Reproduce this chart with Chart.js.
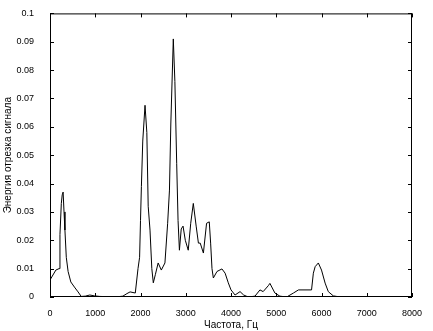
<!DOCTYPE html>
<html>
<head>
<meta charset="utf-8">
<script src="https://cdn.jsdelivr.net/npm/chart.js@4"></script>
<style>
  html, body { margin: 0; padding: 0; background: #fff; }
  canvas { display: block; }
</style>
</head>
<body>
<canvas id="specChart" width="433" height="331"></canvas>
<script>
// frequency, Hz
var freqs = [0, 130, 200, 220, 250, 270, 290, 310, 330, 360, 400, 460, 540, 620, 690, 780, 880, 980, 1100, 1300,
  1500, 1610, 1700, 1770, 1885, 1945, 1980, 2000, 2020, 2050, 2100, 2140, 2170, 2210, 2250, 2283, 2330, 2390, 2460,
  2540, 2600, 2640, 2670, 2725, 2760, 2800, 2830, 2860, 2900, 2940, 2990, 3055, 3110, 3167, 3230, 3280, 3320, 3390,
  3460, 3520, 3550, 3580, 3610, 3690, 3800, 3870, 3940, 4000, 4090, 4200, 4280, 4380, 4530, 4640, 4710, 4825, 4860,
  4970, 5080, 5230, 5380, 5490, 5780, 5820, 5860, 5930, 6000, 6080, 6150, 6260, 6410, 8000];
// energy of the signal segment
var energy = [0.006, 0.0095, 0.010, 0.022, 0.033, 0.036, 0.037, 0.030, 0.0236, 0.014, 0.009, 0.0053, 0.0035, 0.0018,
  0.0002, 0.0003, 0.0007, 0.0004, 0.0002, 0.0001, 0.0001, 0.0003, 0.0012, 0.0018, 0.0014, 0.010, 0.014, 0.027, 0.039,
  0.055, 0.0676, 0.058, 0.032, 0.0236, 0.010, 0.005, 0.008, 0.012, 0.0095, 0.012, 0.026, 0.0377, 0.061, 0.091, 0.076,
  0.047, 0.027, 0.0165, 0.024, 0.025, 0.020, 0.0165, 0.026, 0.033, 0.025, 0.019, 0.019, 0.0155, 0.026, 0.0265, 0.019,
  0.010, 0.0067, 0.009, 0.0099, 0.0084, 0.005, 0.0025, 0.0007, 0.0019, 0.0007, 0.0, 0.0003, 0.0025, 0.0019, 0.004,
  0.0048, 0.0014, 0.0003, 0.0, 0.0014, 0.0025, 0.0025, 0.0084, 0.0107, 0.012, 0.0095, 0.0049, 0.0019, 0.0004, 0.0, 0.0];

var xTicks = [0, 1000, 2000, 3000, 4000, 5000, 6000, 7000, 8000];
var yTicks = [0, 0.01, 0.02, 0.03, 0.04, 0.05, 0.06, 0.07, 0.08, 0.09, 0.1];

var points = freqs.map(function (f, i) { return { x: f, y: energy[i] }; });

// matlab-like box with inward ticks
var boxTicks = {
  id: 'boxTicks',
  afterDraw: function (chart) {
    var c = chart.ctx, a = chart.chartArea;
    var xs = chart.scales.x, ys = chart.scales.y;
    c.save();
    c.strokeStyle = '#000';
    c.lineWidth = 1;
    c.strokeRect(a.left + 0.5, a.top + 0.5, a.right - a.left - 1, a.bottom - a.top - 1);
    c.beginPath();
    xTicks.forEach(function (v) {
      var px = Math.round(xs.getPixelForValue(v)) + 0.5;
      c.moveTo(px, a.bottom); c.lineTo(px, a.bottom - 4);
      c.moveTo(px, a.top); c.lineTo(px, a.top + 4);
    });
    yTicks.forEach(function (v) {
      var py = Math.round(ys.getPixelForValue(v)) + 0.5;
      c.moveTo(a.left, py); c.lineTo(a.left + 4, py);
      c.moveTo(a.right, py); c.lineTo(a.right - 4, py);
    });
    c.stroke();
    c.restore();
  }
};

var ctx = document.getElementById('specChart').getContext('2d');
var myChart = new Chart(ctx, {
  type: 'line',
  data: {
    datasets: [{
      data: points,
      borderColor: '#000',
      borderWidth: 1,
      pointRadius: 0,
      tension: 0,
      fill: false
    }]
  },
  options: {
    responsive: false,
    animation: false,
    layout: { padding: { top: 13, right: 21, left: 0, bottom: 0 } },
    scales: {
      x: {
        type: 'linear',
        min: 0,
        max: 8000,
        afterBuildTicks: function (s) { s.ticks = xTicks.map(function (v) { return { value: v }; }); },
        afterFit: function (s) { s.height = 34; },
        grid: { display: false },
        border: { display: false },
        ticks: {
          color: '#000',
          font: { family: 'Liberation Sans', size: 9 },
          maxRotation: 0,
          padding: 3,
          callback: function (v) { return String(v); }
        },
        title: {
          display: true,
          text: 'Частота, Гц',
          color: '#000',
          font: { family: 'Liberation Sans', size: 10 },
          padding: { top: 2, bottom: 0 }
        }
      },
      y: {
        min: 0,
        max: 0.1,
        afterBuildTicks: function (s) { s.ticks = yTicks.map(function (v) { return { value: v }; }); },
        afterFit: function (s) { s.width = 50; },
        grid: { display: false },
        border: { display: false },
        ticks: {
          color: '#000',
          font: { family: 'Liberation Sans', size: 9 },
          padding: 8,
          callback: function (v) { return String(Math.round(v * 100) / 100); }
        },
        title: {
          display: true,
          text: 'Энергия отрезка сигнала',
          color: '#000',
          font: { family: 'Liberation Sans', size: 10 },
          padding: { top: 2, bottom: 0 }
        }
      }
    },
    plugins: {
      legend: { display: false },
      tooltip: { enabled: false }
    }
  },
  plugins: [boxTicks]
});
</script>
</body>
</html>
